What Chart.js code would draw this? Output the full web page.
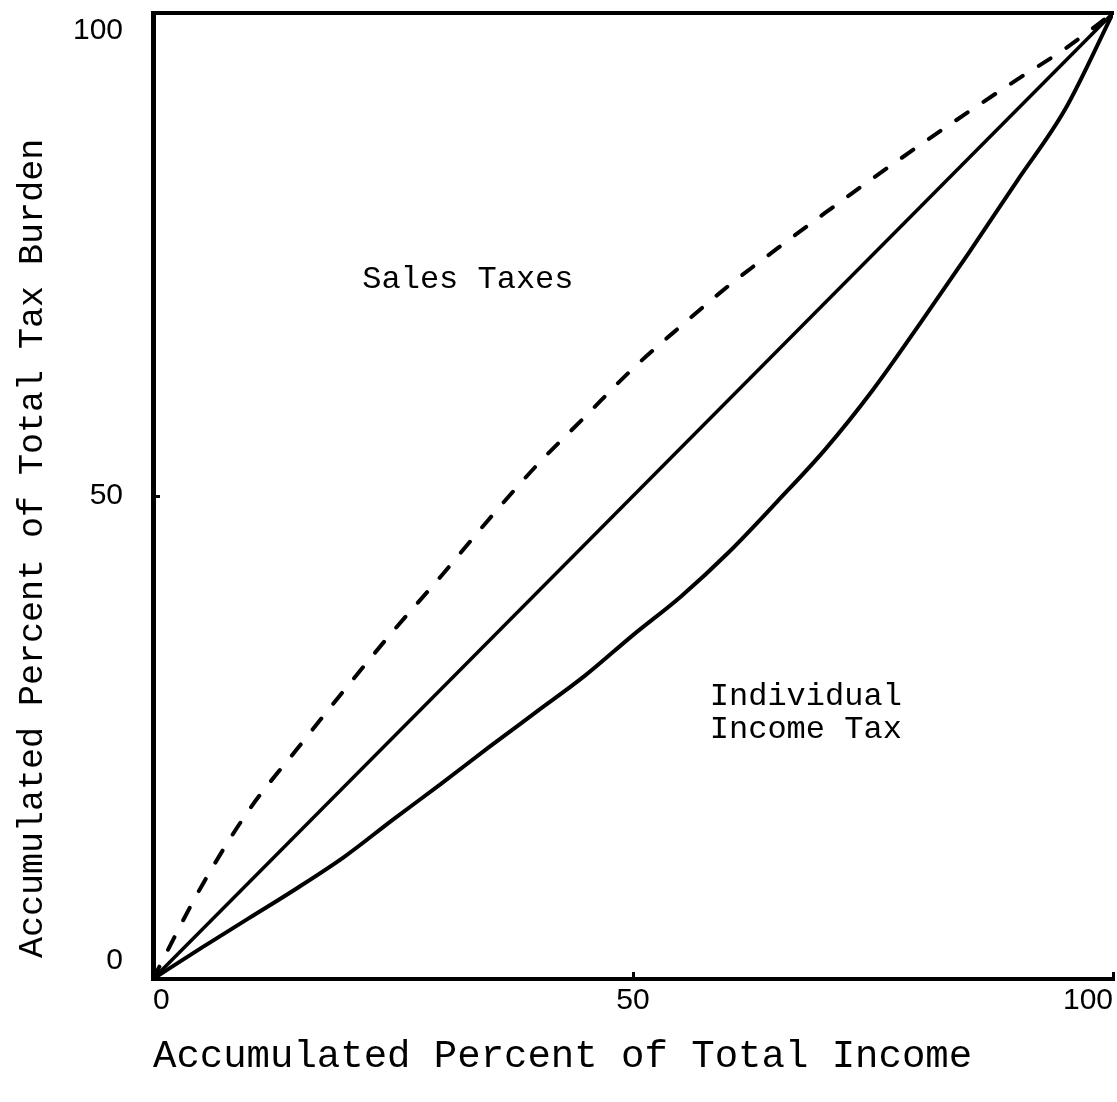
<!DOCTYPE html>
<html>
<head>
<meta charset="utf-8">
<script src="https://cdn.jsdelivr.net/npm/chart.js@4.4.1/dist/chart.umd.min.js"></script>
<style>
  html, body { margin: 0; padding: 0; background: #fff; }
</style>
</head>
<body>
<canvas id="lorenz" width="1117" height="1102"></canvas>
<script>
// accumulated percent of income (x) against accumulated percent of tax burden (y)
const incomePct = [0, 5, 10, 15, 20, 25, 30, 35, 40, 45, 50, 55, 60, 65, 70, 75, 80, 85, 90, 95, 100];
const salesTaxes = [0, 9.5, 17.5, 23.8, 30, 36, 41.7, 47.6, 53.2, 58.2, 63.2, 67.6, 71.8, 75.6, 79.3, 82.9, 86.4, 89.8, 93.1, 96.3, 100];
const incomeTax = [0, 3.2, 6.3, 9.4, 12.7, 16.5, 20.2, 24, 27.7, 31.4, 35.6, 39.6, 44.2, 49.4, 54.8, 61, 68, 75.2, 82.6, 90, 100];
const equalityX = [0, 100];
const equalityY = [0, 100];
const tickValues = [0, 50, 100];

// curve labels, placed in data units
const notes = [
  { text: "Sales Taxes", x: 21.8, y: 72.4 },
  { text: "Individual", x: 58, y: 29.2 },
  { text: "Income Tax", x: 58, y: 25.8 }
];

const typeFont = "Liberation Mono";
const numFont = "Liberation Sans";

function toPoints(xs, ys) {
  return xs.map((x, i) => ({ x: x, y: ys[i] }));
}

const notesPlugin = {
  id: "notes",
  afterDraw(chart) {
    const ctx = chart.ctx;
    const xs = chart.scales.x;
    const ys = chart.scales.y;
    ctx.save();
    ctx.fillStyle = "#000";
    ctx.font = "32px '" + typeFont + "'";
    ctx.textAlign = "left";
    ctx.textBaseline = "middle";
    notes.forEach(n => {
      ctx.fillText(n.text, xs.getPixelForValue(n.x), ys.getPixelForValue(n.y));
    });
    ctx.restore();
  }
};

new Chart(document.getElementById("lorenz"), {
  type: "line",
  data: {
    datasets: [
      {
        label: "Sales Taxes",
        data: toPoints(incomePct, salesTaxes),
        borderColor: "#000",
        borderWidth: 4,
        borderDash: [14, 19],
        borderCapStyle: "round",
        cubicInterpolationMode: "monotone",
        pointRadius: 0
      },
      {
        label: "Equal distribution",
        data: toPoints(equalityX, equalityY),
        borderColor: "#000",
        borderWidth: 3.5,
        pointRadius: 0
      },
      {
        label: "Individual Income Tax",
        data: toPoints(incomePct, incomeTax),
        borderColor: "#000",
        borderWidth: 4,
        cubicInterpolationMode: "monotone",
        pointRadius: 0
      }
    ]
  },
  options: {
    responsive: false,
    animation: false,
    events: [],
    layout: { padding: { right: 4 } },
    plugins: {
      legend: { display: false },
      tooltip: { enabled: false }
    },
    scales: {
      x: {
        type: "linear",
        min: 0,
        max: 100,
        afterBuildTicks: s => { s.ticks = tickValues.map(v => ({ value: v })); },
        afterFit: s => { s.height = 123; s.paddingLeft = 0; s.paddingRight = 0; },
        border: { display: true, color: "#000", width: 4 },
        grid: { drawOnChartArea: false, drawTicks: true, tickLength: -7, color: "#000", lineWidth: 3 },
        ticks: {
          color: "#000",
          padding: 11,
          align: "inner",
          maxRotation: 0,
          font: { family: numFont, size: 30 }
        },
        title: {
          display: true,
          align: "start",
          text: "Accumulated Percent of Total Income",
          color: "#000",
          font: { family: typeFont, size: 39 },
          padding: { top: 0, bottom: 22 }
        }
      },
      top: {
        type: "linear",
        position: "top",
        min: 0,
        max: 100,
        afterFit: s => { s.height = 13; s.paddingLeft = 0; s.paddingRight = 0; },
        border: { display: true, color: "#000", width: 4 },
        grid: { display: false, drawTicks: false },
        ticks: { display: false }
      },
      y: {
        type: "linear",
        min: 0,
        max: 100,
        afterBuildTicks: s => { s.ticks = tickValues.map(v => ({ value: v })); },
        afterFit: s => { s.width = 153; s.paddingTop = 0; s.paddingBottom = 0; },
        border: { display: true, color: "#000", width: 5 },
        grid: { drawOnChartArea: false, drawTicks: true, tickLength: -7, color: "#000", lineWidth: 3 },
        ticks: {
          color: "#000",
          padding: 37,
          font: { family: numFont, size: 30 },
          // end labels sit inside the frame, like the original
          callback: v => v === 100 ? ["", "100"] : (v === 0 ? ["0", ""] : String(v))
        },
        title: {
          display: true,
          align: "start",
          text: " Accumulated Percent of Total Tax Burden",
          color: "#000",
          font: { family: typeFont, size: 35 },
          padding: { top: 12, bottom: 0 }
        }
      }
    }
  },
  plugins: [notesPlugin]
});
</script>
</body>
</html>
